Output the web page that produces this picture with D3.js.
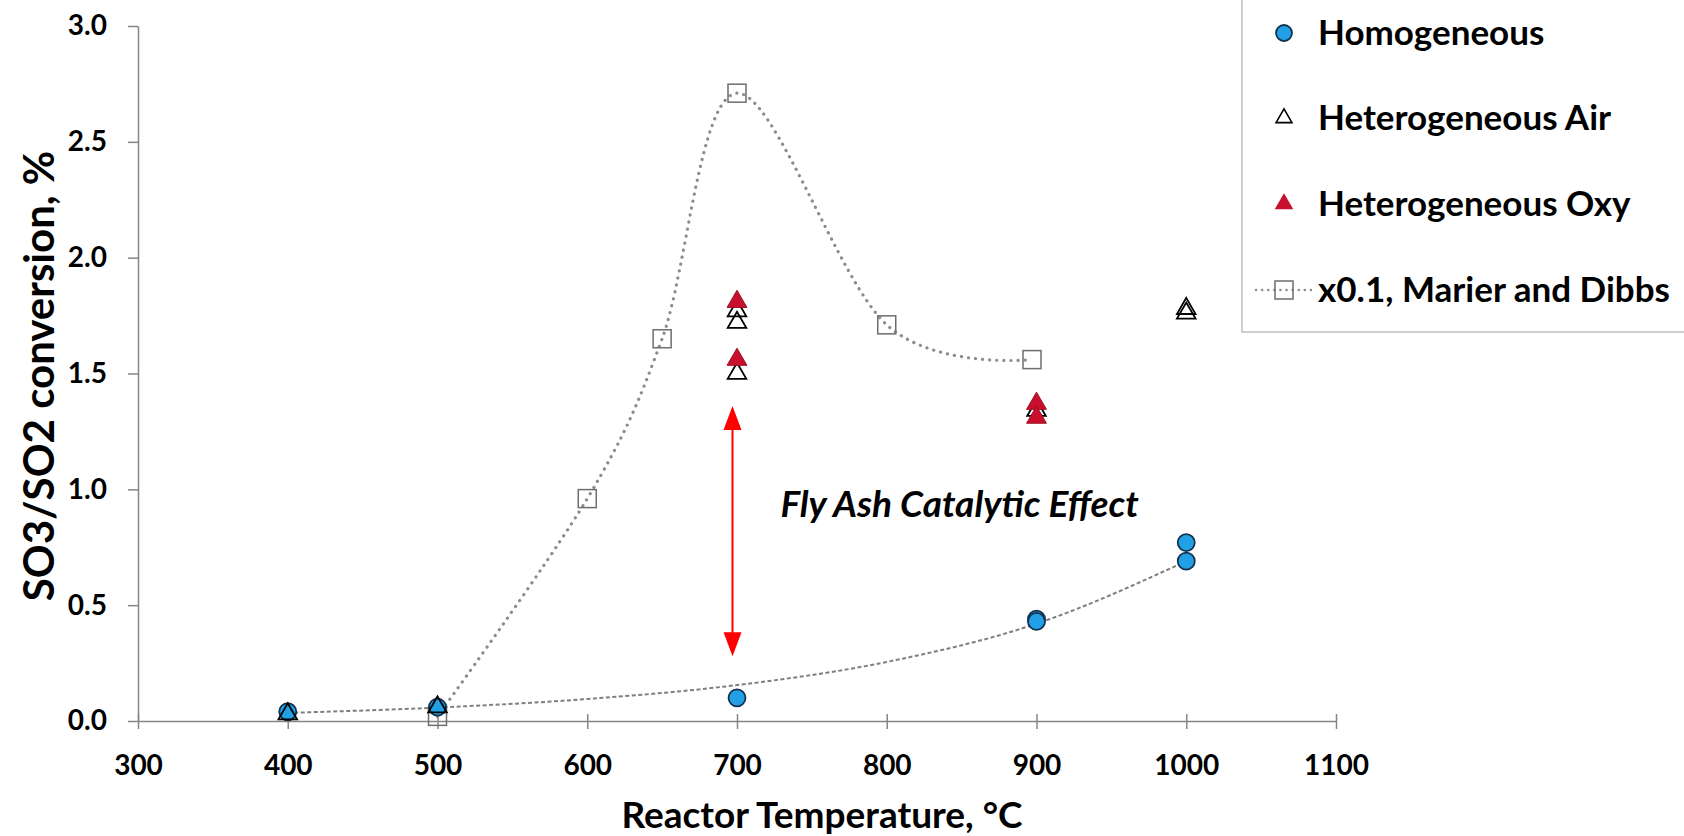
<!DOCTYPE html>
<html>
<head>
<meta charset="utf-8">
<script src="https://cdn.jsdelivr.net/npm/d3@7"></script>
<style>
  body { margin: 0; background: #fff; }
  text { font-family: Lato, "Open Sans", sans-serif; font-weight: bold; fill: #000; }
</style>
</head>
<body>
<div id="chart"></div>
<script>
// values
const homoTemp = [400, 500, 700, 900, 900, 1000, 1000];
const homoConv = [0.04, 0.06, 0.1, 0.44, 0.43, 0.77, 0.69];
const airTemp = [400, 500, 700, 700, 700, 900, 1000, 1000];
const airConv = [0.03, 0.06, 1.77, 1.72, 1.50, 1.34, 1.78, 1.76];
const oxyTemp = [700, 700, 900, 900];
const oxyConv = [1.81, 1.56, 1.37, 1.31];
const dibbsTemp = [500, 600, 650, 700, 800, 897];
const dibbsConv = [0.02, 0.96, 1.65, 2.71, 1.71, 1.56];
const trendTemp = [400, 500, 600, 700, 800, 900, 1000];
const trendConv = [0.035, 0.058, 0.095, 0.155, 0.255, 0.42, 0.69];
const xTicks = [300, 400, 500, 600, 700, 800, 900, 1000, 1100];
const yTicks = [0, 0.5, 1.0, 1.5, 2.0, 2.5, 3.0];
const legendLabels = ["Homogeneous", "Heterogeneous Air", "Heterogeneous Oxy", "x0.1, Marier and Dibbs"];
const arrowTemp = 697, arrowTop = 1.36, arrowBottom = 0.28;

const width = 1684, height = 836;
const margin = {top: 26, right: 348, bottom: 115, left: 138};
const innerW = width - margin.left - margin.right;
const innerH = height - margin.top - margin.bottom;

const zip = (xs, ys) => xs.map((x, i) => ({x: x, y: ys[i]}));

const svg = d3.select("#chart")
    .append("svg")
    .attr("width", width)
    .attr("height", height)
    .append("g")
    .attr("transform", "translate(" + margin.left + "," + margin.top + ")");

const x = d3.scaleLinear().domain([300, 1100]).range([0, innerW]);
const y = d3.scaleLinear().domain([0, 3]).range([innerH, 0]);

// y axis
const yAxis = svg.append("g")
    .call(d3.axisLeft(y).tickValues(yTicks).tickFormat(d3.format(".1f")).tickSize(10).tickSizeOuter(0).tickPadding(21));
yAxis.select(".domain").attr("stroke", "#868686").attr("stroke-width", 1.5);
yAxis.selectAll(".tick line").attr("stroke", "#868686").attr("stroke-width", 1.5);
yAxis.selectAll(".tick text").style("font-size", "28px").attr("font-family", null);

// x axis with cross ticks
const xAxis = svg.append("g")
    .attr("transform", "translate(0," + innerH + ")")
    .call(d3.axisBottom(x).tickValues(xTicks).tickFormat(d3.format("d")).tickSize(8).tickSizeOuter(0).tickPadding(26));
xAxis.select(".domain").attr("stroke", "#868686").attr("stroke-width", 1.5);
xAxis.selectAll(".tick line").attr("y1", -7).attr("stroke", "#868686").attr("stroke-width", 1.5);
xAxis.selectAll(".tick text").style("font-size", "28px").attr("font-family", null);

// axis titles
svg.append("text")
    .attr("x", innerW / 2 + 85)
    .attr("y", innerH + 107)
    .style("text-anchor", "middle")
    .style("font-size", "37px")
    .text("Reactor Temperature, °C");

svg.append("text")
    .attr("transform", "rotate(-90)")
    .attr("x", -350)
    .attr("y", -84)
    .style("text-anchor", "middle")
    .style("font-size", "42px")
    .text("SO3/SO2 conversion, %");

// exponential trendline of homogeneous data
svg.append("path")
    .datum(zip(trendTemp, trendConv))
    .attr("fill", "none")
    .attr("stroke", "#7f7f7f")
    .attr("stroke-width", 2)
    .attr("stroke-dasharray", "4,2.5")
    .attr("d", d3.line().x(d => x(d.x)).y(d => y(d.y)).curve(d3.curveMonotoneX));

// Marier and Dibbs smoothed line
svg.append("path")
    .datum(zip(dibbsTemp, dibbsConv))
    .attr("fill", "none")
    .attr("stroke", "#8c8c8c")
    .attr("stroke-width", 3.2)
    .attr("stroke-linecap", "round")
    .attr("stroke-dasharray", "0.1,7")
    .attr("d", d3.line().x(d => x(d.x)).y(d => y(d.y)).curve(d3.curveCardinal.tension(0)));

svg.selectAll(".dibbs")
    .data(zip(dibbsTemp, dibbsConv))
    .enter().append("rect")
    .attr("class", "dibbs")
    .attr("x", d => x(d.x) - 9)
    .attr("y", d => y(d.y) - 9)
    .attr("width", 18)
    .attr("height", 18)
    .attr("fill", "none")
    .attr("stroke", "#6e6e6e")
    .attr("stroke-width", 1.5);

const tri = d3.symbol().type(d3.symbolTriangle);

// homogeneous circles
svg.selectAll(".homo")
    .data(zip(homoTemp, homoConv))
    .enter().append("circle")
    .attr("class", "homo")
    .attr("cx", d => x(d.x))
    .attr("cy", d => y(d.y))
    .attr("r", 8.5)
    .attr("fill", "#22a0e6")
    .attr("stroke", "#13324f")
    .attr("stroke-width", 1.8);

// heterogeneous air
svg.selectAll(".air")
    .data(zip(airTemp, airConv))
    .enter().append("path")
    .attr("class", "air")
    .attr("transform", d => "translate(" + x(d.x) + "," + y(d.y) + ")")
    .attr("d", tri.size(150))
    .attr("fill", "none")
    .attr("stroke", "#000")
    .attr("stroke-width", 1.8);

// heterogeneous oxy
svg.selectAll(".oxy")
    .data(zip(oxyTemp, oxyConv))
    .enter().append("path")
    .attr("class", "oxy")
    .attr("transform", d => "translate(" + x(d.x) + "," + y(d.y) + ")")
    .attr("d", tri.size(170))
    .attr("fill", "#c8102e")
    .attr("stroke", "#9c0f1f")
    .attr("stroke-width", 1);

// fly ash double arrow
const ax = x(arrowTemp), aTop = y(arrowTop), aBot = y(arrowBottom);
svg.append("line")
    .attr("x1", ax).attr("x2", ax)
    .attr("y1", aTop + 20).attr("y2", aBot - 20)
    .attr("stroke", "#ff0000")
    .attr("stroke-width", 2);
svg.append("path")
    .attr("d", "M" + ax + "," + aTop + "L" + (ax - 9) + "," + (aTop + 24) + "L" + (ax + 9) + "," + (aTop + 24) + "Z")
    .attr("fill", "#ff0000");
svg.append("path")
    .attr("d", "M" + ax + "," + aBot + "L" + (ax - 9) + "," + (aBot - 24) + "L" + (ax + 9) + "," + (aBot - 24) + "Z")
    .attr("fill", "#ff0000");

svg.append("text")
    .attr("x", x(729))
    .attr("y", y(0.88))
    .style("font-size", "37px")
    .style("font-style", "italic")
    .text("Fly Ash Catalytic Effect");

// legend
const legend = svg.append("g")
    .attr("transform", "translate(" + (1242 - margin.left) + "," + (-margin.top) + ")");
legend.append("rect")
    .attr("x", 0).attr("y", -5)
    .attr("width", 460).attr("height", 337)
    .attr("fill", "#fff")
    .attr("stroke", "#bfbfbf")
    .attr("stroke-width", 1.5);

const rowY = [33, 118, 204, 290];
const mx = 42;
legend.append("circle")
    .attr("cx", mx).attr("cy", rowY[0]).attr("r", 8)
    .attr("fill", "#22a0e6").attr("stroke", "#13324f").attr("stroke-width", 1.8);
legend.append("path")
    .attr("transform", "translate(" + mx + "," + rowY[1] + ")")
    .attr("d", tri.size(110))
    .attr("fill", "none").attr("stroke", "#000").attr("stroke-width", 1.6);
legend.append("path")
    .attr("transform", "translate(" + mx + "," + rowY[2] + ")")
    .attr("d", tri.size(150))
    .attr("fill", "#c8102e");
legend.append("line")
    .attr("x1", mx - 28).attr("x2", mx + 28)
    .attr("y1", rowY[3]).attr("y2", rowY[3])
    .attr("stroke", "#8c8c8c").attr("stroke-width", 2.5)
    .attr("stroke-linecap", "round").attr("stroke-dasharray", "0.1,6");
legend.append("rect")
    .attr("x", mx - 9).attr("y", rowY[3] - 9)
    .attr("width", 18).attr("height", 18)
    .attr("fill", "none").attr("stroke", "#6e6e6e").attr("stroke-width", 1.5);

legend.selectAll(".leg-label")
    .data(legendLabels)
    .enter().append("text")
    .attr("class", "leg-label")
    .attr("x", 76)
    .attr("y", (d, i) => rowY[i])
    .attr("dy", "0.35em")
    .style("font-size", "35px")
    .text(d => d);
</script>
</body>
</html>
